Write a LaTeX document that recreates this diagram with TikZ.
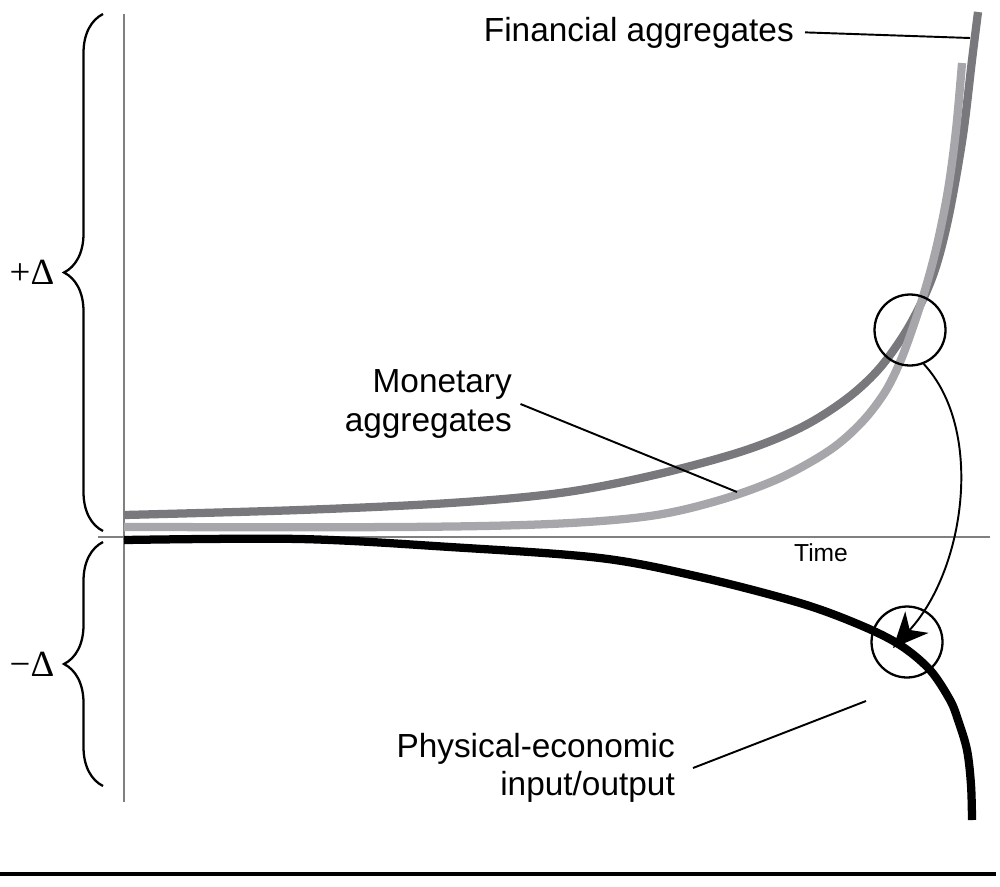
\documentclass[tikz,border=0pt]{standalone}
\usepackage{fontspec}
\setmainfont{Liberation Sans}
\newfontfamily\deltafont{Liberation Serif}
\usetikzlibrary{arrows.meta,decorations.pathreplacing}
\definecolor{finGrey}{RGB}{120,120,125}
\definecolor{monGrey}{RGB}{167,167,171}
\definecolor{axisGrey}{RGB}{128,128,128}
\begin{document}
\begin{tikzpicture}[x=0.02cm,y=-0.02cm]

    \tikzset{
      trend/.style={line width=4.7pt},
      axisline/.style={color={axisGrey},line width=0.8pt},
      leader/.style={color={black},line width=1.1pt},
      ring/.style={draw,circle,line width=1.3pt,minimum size=1.42cm,inner sep=0pt},
      lbl/.style={font=\fontsize{19}{22}\selectfont,align=right},
      deltalbl/.style={font=\deltafont\fontsize{21}{24}\selectfont},
      curly/.style={decorate,decoration={brace,amplitude=0.78cm},line width=1.3pt},
    }
    \useasboundingbox (0,0) rectangle (1000,886);
	\draw[axisline] (124,14)--(124,802);
	\draw[axisline] (98,537)--(990,537);
	\draw[curly] (103,531)--(103,14);
	\draw[curly] (103,786)--(103,542);
	\node[deltalbl] (plus) at (32,272) {+Δ};
	\node[deltalbl] (minus) at (32,664) {−Δ};
	\node[font=\fontsize{14}{16}\selectfont,anchor=base] (time) at (821,561) {Time};
	\draw[trend,color={finGrey}] plot[smooth,tension=0.55] coordinates {(124,515) (300,510) (450,503) (560,493) (650,476) (740,452) (800,428) (845,400) (878,370) (905,333) (925,295) (938,260) (950,210) (963,135) (972,60) (978,12)};
	\draw[trend,color={monGrey}] plot[smooth,tension=0.55] coordinates {(124,527) (400,527) (550,524) (650,516) (720,500) (780,478) (830,450) (862,422) (885,392) (900,362) (912,330) (925,290) (937,245) (948,190) (956,130) (962,63)};
	\draw[trend,color={black}] plot[smooth,tension=0.55] coordinates {(124,540) (300,539) (450,547) (600,558) (700,577) (800,603) (860,625) (900,645) (930,670) (950,700) (958,720) (967,750) (971,785) (972,820)};
	\node[ring] (hot) at (910,330) {};
	\node[ring] (drop) at (907,642) {};
	\coordinate (droptip) at (893,648);
	\draw[leader,-{Stealth[length=20pt,width=18pt,inset=6pt]}] (hot.-68) .. controls (985,430) and (965,570) .. (droptip);
	\node[lbl,anchor=base east] (fin) at (800,41) {Financial aggregates};
	\node[lbl,anchor=east] (mon) at (518,404) {Monetary\\aggregates};
	\node[lbl,anchor=east] (phys) at (681,768) {Physical-economic\\input/output};
	\coordinate (finend) at (970,38);
	\coordinate (monend) at (737,492);
	\coordinate (physend) at (866,701);
	\draw[leader] ([xshift=0.1cm]fin.east)--(finend);
	\draw[leader] ([xshift=0.05cm]mon.east)--(monend);
	\draw[leader] ([xshift=0.24cm]phys.east)--(physend);
	\draw[color={black},line width=1.8pt] (0,874)--(996,874);

\end{tikzpicture}
\end{document}
